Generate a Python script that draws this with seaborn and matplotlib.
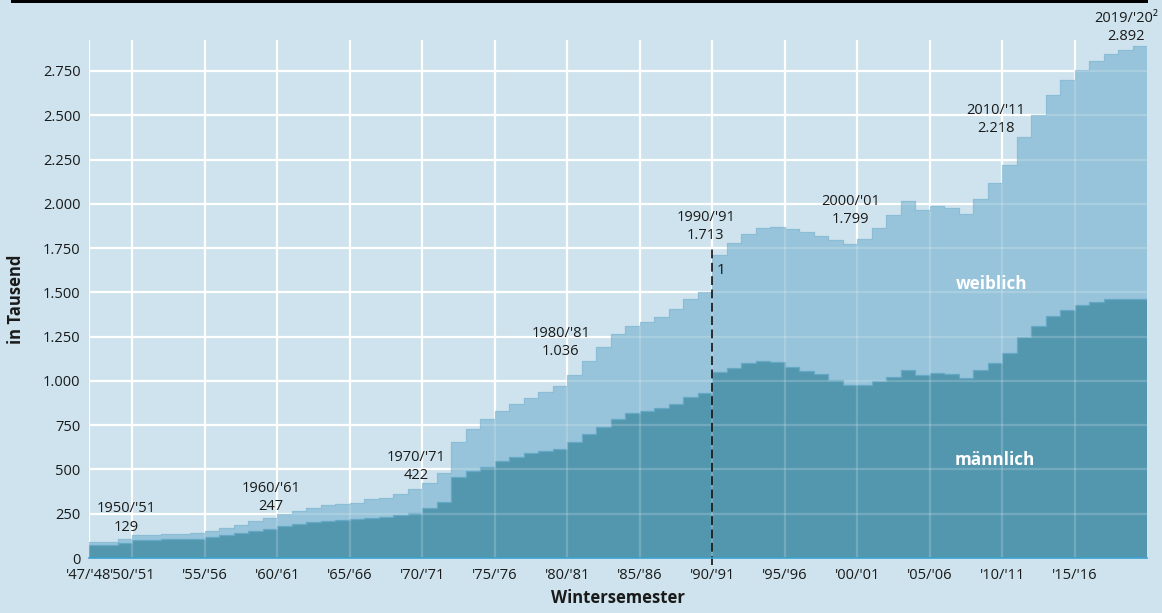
import numpy as np
import pandas as pd
import seaborn as sns
import matplotlib.pyplot as plt

# Studierende im Wintersemester, in Tausend
years = list(range(1947, 2020))
total = [88, 88, 107, 129, 132, 135, 138, 143, 152, 171,
         186, 209, 227, 247, 267, 284, 297, 306, 308, 333,
         340, 359, 388, 422, 478, 656, 726, 784, 831, 869,
         905, 935, 971, 1036, 1114, 1193, 1264, 1309, 1334, 1362,
         1405, 1462, 1501, 1713, 1776, 1832, 1864, 1870, 1855, 1840,
         1821, 1798, 1772, 1799, 1866, 1939, 2016, 1964, 1985, 1978,
         1942, 2026, 2120, 2218, 2377, 2501, 2613, 2697, 2755, 2805,
         2844, 2867, 2892]
male = [73, 73, 86, 102, 104, 106, 108, 110, 118, 130,
        143, 154, 165, 180, 190, 201, 210, 216, 220, 226,
        231, 241, 252, 284, 318, 457, 491, 515, 547, 572,
        591, 604, 617, 653, 698, 741, 784, 817, 831, 845,
        869, 908, 929, 1051, 1072, 1102, 1112, 1104, 1080, 1055,
        1037, 1006, 975, 975, 1001, 1023, 1060, 1035, 1046, 1038,
        1018, 1061, 1099, 1155, 1249, 1309, 1366, 1403, 1428, 1446,
        1460, 1464, 1464]

tick_years = [1947, 1950, 1955, 1960, 1965, 1970, 1975, 1980, 1985, 1990,
              1995, 2000, 2005, 2010, 2015]
tick_labels = ["'47/'48", "'50/'51", "'55/'56", "'60/'61", "'65/'66", "'70/'71",
               "'75/'76", "'80/'81", "'85/'86", "'90/'91", "'95/'96", "'00/'01",
               "'05/'06", "'10/'11", "'15/'16"]
y_ticks = list(range(0, 2751, 250))

label_years = [1950, 1960, 1970, 1980, 1990, 2000, 2010, 2019]
label_names = ["1950/'51", "1960/'61", "1970/'71", "1980/'81", "1990/'91",
               "2000/'01", "2010/'11", "2019/'20²"]
label_lift = [25, 24, 24, 110, 87, 93, 188, 31]

bg = '#cee3ed'
fem_c = '#97c4da'
male_c = '#5397af'


def de(v):
    return f"{v:,}".replace(',', '.')


sns.set_theme(style='white')
plt.rcParams['font.family'] = ['Open Sans', 'DejaVu Sans']

df = pd.DataFrame({'jahr': years, 'gesamt': total, 'maennlich': male})
# letzten Wert bis Ende des Semesters fortschreiben
xs = np.append(df['jahr'].values, df['jahr'].values[-1] + 1)
tot_ext = np.append(df['gesamt'].values, df['gesamt'].values[-1])
male_ext = np.append(df['maennlich'].values, df['maennlich'].values[-1])

fig = plt.figure(figsize=(11.62, 6.13), dpi=100)
fig.patch.set_facecolor(bg)
ax = fig.add_axes([89 / 1162, 55 / 613, 1058 / 1162, 518 / 613])
ax.set_facecolor(bg)

ax.fill_between(xs, 0, male_ext, step='post', color=male_c, lw=0, zorder=2)
ax.fill_between(xs, male_ext, tot_ext, step='post', color=fem_c, lw=0, zorder=2)
edge = pd.DataFrame({'x': xs, 'tot': tot_ext, 'm': male_ext})
sns.lineplot(data=edge, x='x', y='tot', ax=ax, drawstyle='steps-post',
             color='#8bbdd6', lw=0.9, zorder=2.2)
sns.lineplot(data=edge, x='x', y='m', ax=ax, drawstyle='steps-post',
             color='#65a9c6', lw=0.9, zorder=2.2)

ax.set_xlim(1947, 2020)
ax.set_ylim(0, 2925)
ax.set_xticks(tick_years)
ax.set_xticklabels(tick_labels)
ax.set_yticks(y_ticks)
ax.set_yticklabels([de(v) for v in y_ticks])
ax.grid(True, color='white', lw=1.6, zorder=0)
ax.set_axisbelow(True)
# Raster schimmert durch die Flächen
for x in tick_years:
    ax.axvline(x, color='white', alpha=0.18, lw=1.6, zorder=3)
for y in y_ticks[1:]:
    ax.axhline(y, color='white', alpha=0.18, lw=1.6, zorder=3)

ax.tick_params(axis='both', length=0, labelsize=10.5, labelcolor='#1a1a1a')
ax.tick_params(axis='x', pad=7)
ax.tick_params(axis='y', pad=6)
for s in ['left', 'top', 'right']:
    ax.spines[s].set_visible(False)
ax.spines['bottom'].set_color('#3aa3cf')
ax.spines['bottom'].set_linewidth(1.2)
ax.spines['bottom'].set_zorder(4)

ax.set_xlabel('Wintersemester', fontsize=12, weight='bold', color='#1a1a1a')
ax.set_ylabel('in Tausend', fontsize=12, weight='bold', color='#1a1a1a')
ax.xaxis.set_label_coords(0.5, -0.06)
ax.yaxis.set_label_coords(-0.0605, 0.5)

for yr, name, lift in zip(label_years, label_names, label_lift):
    v = total[years.index(yr)]
    ax.text(yr - 0.45, v + lift, f"{name}\n{de(v)}", ha='center', va='baseline',
            fontsize=10.5, linespacing=1.3, color='#1a1a1a', clip_on=False, zorder=5)

# Wiedervereinigung
ax.vlines(1990, -40, 1757, colors='#111111', linestyles=(0, (5.3, 2.7)),
          lw=1.2, clip_on=False, zorder=4)
ax.text(1990.3, 1625, '1', ha='left', va='center', fontsize=11, color='#1a1a1a')

ax.text(2009.3, 1550, 'weiblich', ha='center', va='center', color='white',
        fontsize=12.3, weight='bold', zorder=5)
ax.text(2009.5, 553, 'männlich', ha='center', va='center', color='white',
        fontsize=12.3, weight='bold', zorder=5)

fig.add_artist(plt.Rectangle((11 / 1162, 1 - 3 / 613), 1137 / 1162, 3 / 613,
                             transform=fig.transFigure, color='black', lw=0))

fig.savefig('out.png', dpi=100, facecolor=bg)
